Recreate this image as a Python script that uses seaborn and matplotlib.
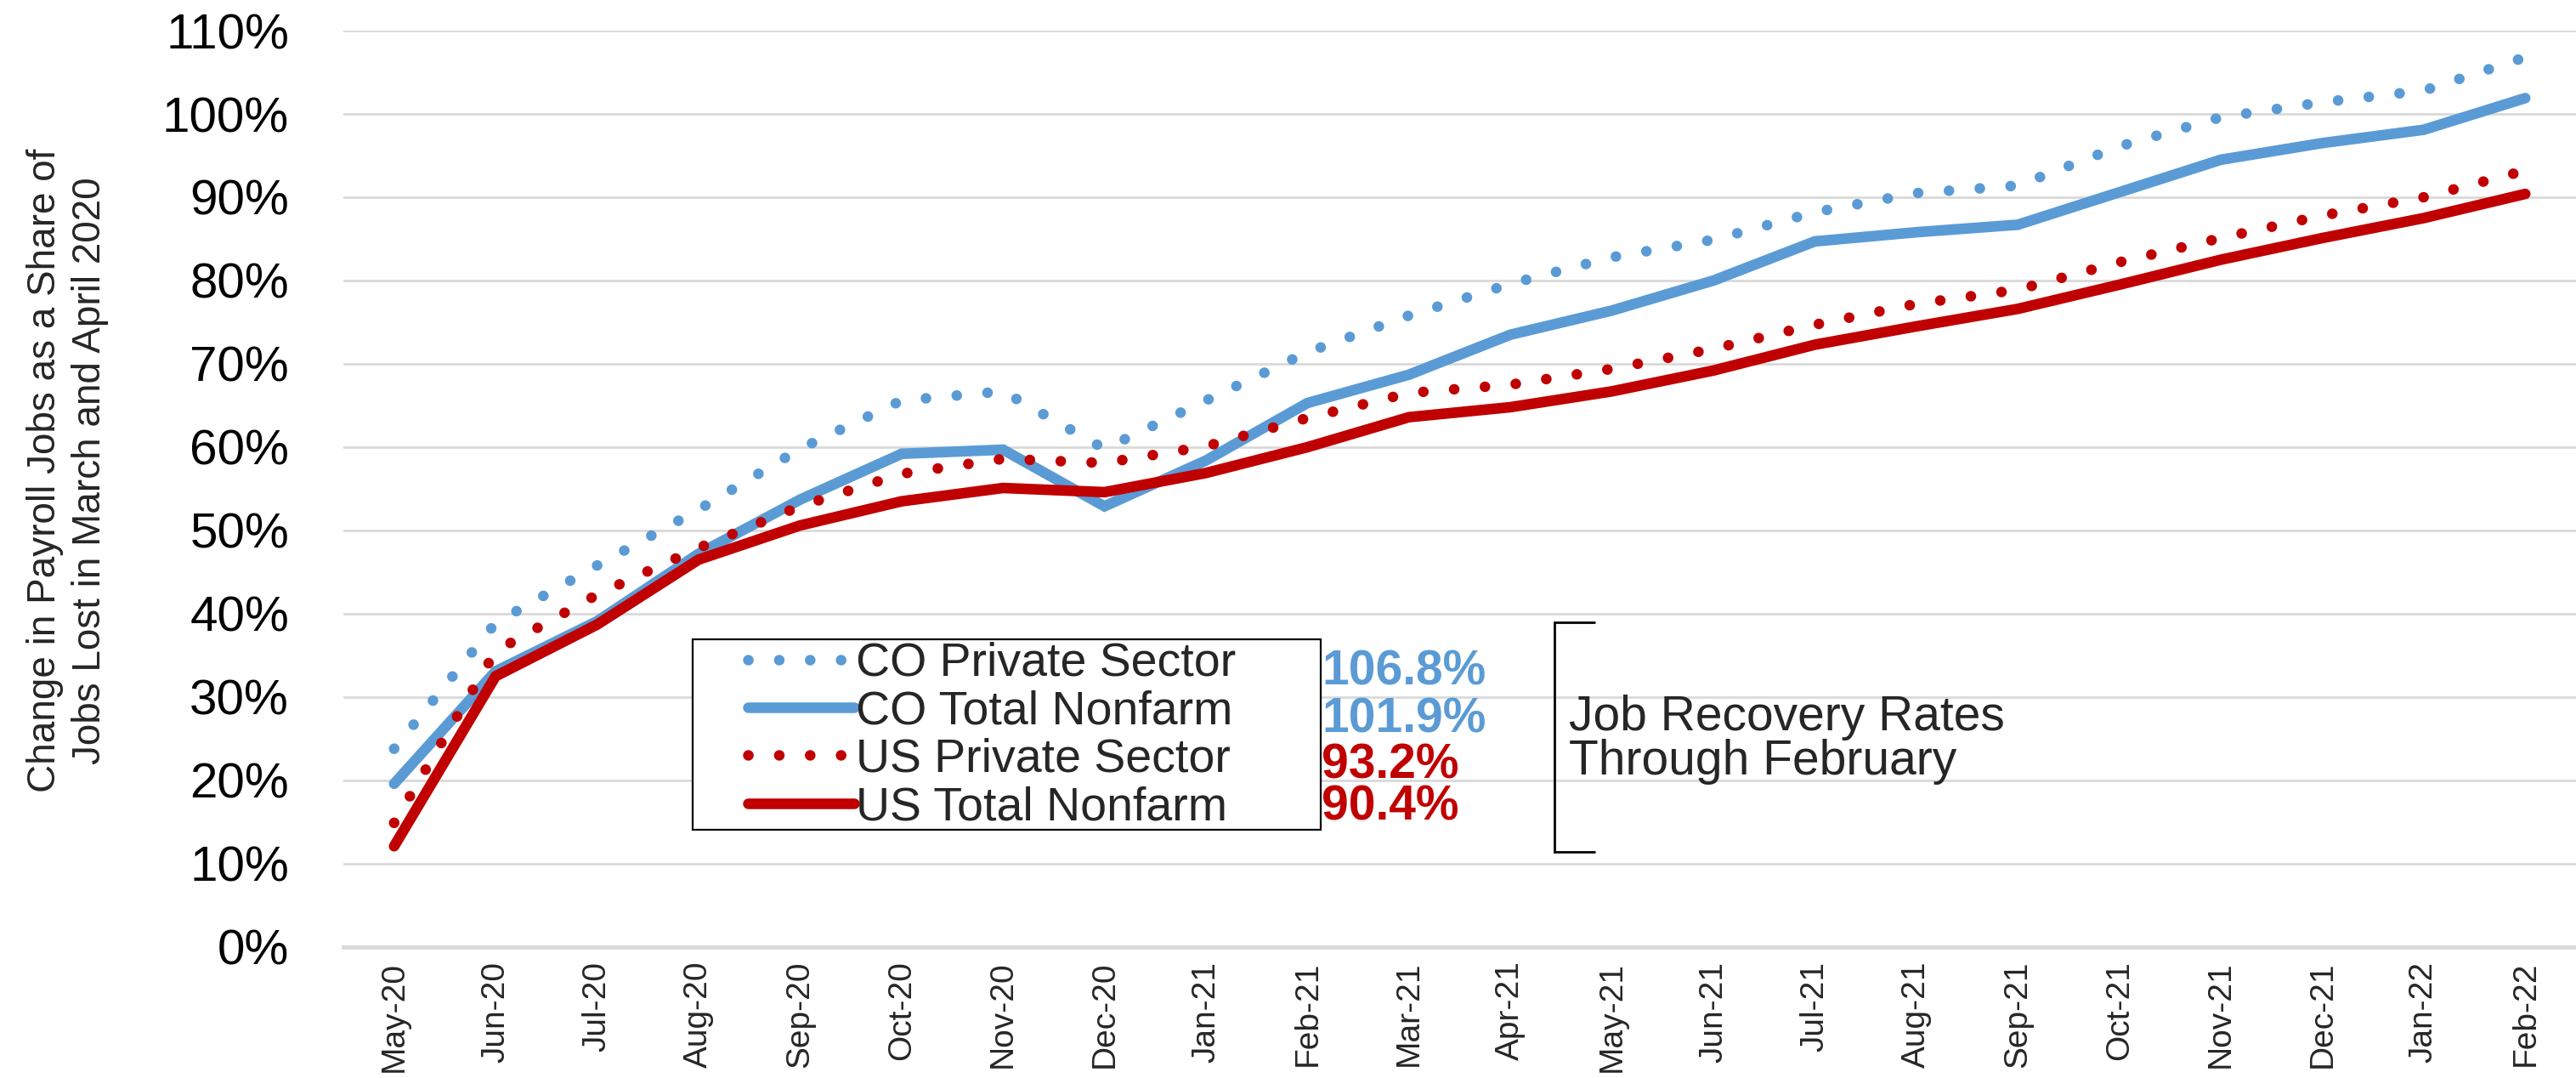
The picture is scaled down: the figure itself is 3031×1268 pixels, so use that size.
import numpy as np
import pandas as pd
import matplotlib
matplotlib.use("Agg")
import matplotlib.pyplot as plt
import seaborn as sns
from matplotlib.patches import Rectangle


months = ["May-20", "Jun-20", "Jul-20", "Aug-20", "Sep-20", "Oct-20", "Nov-20", "Dec-20",
          "Jan-21", "Feb-21", "Mar-21", "Apr-21", "May-21", "Jun-21", "Jul-21", "Aug-21",
          "Sep-21", "Oct-21", "Nov-21", "Dec-21", "Jan-22", "Feb-22"]

co_private = [23.8, 38.9, 45.8, 52.5, 59.8, 65.6, 66.7, 59.8, 65.6, 71.4, 75.8, 79.6,
              82.8, 84.9, 88.2, 90.5, 91.4, 96.1, 99.6, 101.4, 102.8, 106.8]
co_total = [19.6, 33.1, 39.1, 47.2, 53.7, 59.2, 59.7, 52.9, 58.4, 65.3, 68.7, 73.5,
            76.4, 80.0, 84.7, 85.8, 86.7, 90.6, 94.5, 96.5, 98.1, 101.9]
us_private = [14.9, 35.5, 42.3, 47.9, 52.9, 56.8, 58.6, 58.1, 60.1, 63.5, 66.5, 67.5,
              69.4, 71.8, 74.7, 77.2, 78.9, 82.2, 85.1, 87.8, 90.0, 93.2]
us_total = [12.1, 32.5, 38.7, 46.5, 50.6, 53.5, 55.1, 54.6, 56.9, 60.0, 63.6, 64.8,
            66.7, 69.2, 72.3, 74.5, 76.6, 79.5, 82.5, 85.1, 87.5, 90.4]

series_names = ["CO Private Sector", "CO Total Nonfarm", "US Private Sector", "US Total Nonfarm"]

BLUE = "#5B9BD5"
RED = "#C00000"
GRID = "#D9D9D9"

df = pd.DataFrame({
    "idx": np.arange(len(months)),
    "month": months,
    series_names[0]: co_private,
    series_names[1]: co_total,
    series_names[2]: us_private,
    series_names[3]: us_total,
})

sns.set_style("white")
plt.rcParams["font.family"] = ["Liberation Sans", "DejaVu Sans"]

fig = plt.figure(figsize=(30.31, 12.68), dpi=100)
ax = fig.add_axes([0.1333, 0.1215, 0.8667, 0.8501])

dot = (0, (0.01, 2.9))
styles = [
    (series_names[0], BLUE, dot),
    (series_names[1], BLUE, "-"),
    (series_names[2], RED, dot),
    (series_names[3], RED, "-"),
]
for name, color, ls in styles:
    sns.lineplot(data=df, x="idx", y=name, ax=ax, color=color, linewidth=9,
                 linestyle=ls, dash_capstyle="round", solid_capstyle="round",
                 solid_joinstyle="miter", label=name)

ax.set_xlim(-0.5, len(months) - 0.5)
ax.set_ylim(0, 110)
ax.set_yticks(range(0, 111, 10))
ax.set_yticklabels([f"{v}%" for v in range(0, 111, 10)])
ax.set_xticks(df["idx"])
ax.set_xticklabels(months, rotation=90, va="top", ha="center")
ax.set_xticks(np.arange(-0.5, len(months), 1), minor=True)

ax.yaxis.grid(True, color=GRID, linewidth=2)
ax.xaxis.grid(False)
ax.set_axisbelow(True)
for side in ["top", "right", "left"]:
    ax.spines[side].set_visible(False)
ax.spines["bottom"].set_color(GRID)
ax.spines["bottom"].set_linewidth(3.5)

ax.tick_params(axis="y", length=0, pad=46, labelsize=42, labelcolor="black")
ax.tick_params(axis="x", which="major", length=0, pad=12, labelsize=28)
ax.tick_params(axis="x", which="minor", length=9, width=2, color=GRID, direction="out")

ax.set_xlabel("")
ax.set_ylabel("Change in Payroll Jobs as a Share of\nJobs Lost in March and April 2020",
              fontsize=33, va="center", linespacing=1.25)
ax.yaxis.set_label_coords(-0.1235, 0.52)

# legend: frameless entries inside a drawn box
ax.add_patch(Rectangle((0.1565, 0.128), 0.2813, 0.2078, transform=ax.transAxes,
                       facecolor="white", edgecolor="black", linewidth=1.6, zorder=5))
handles, labels = ax.get_legend_handles_labels()
leg = ax.legend(handles, labels, loc="upper left", bbox_to_anchor=(0.181, 0.333),
                frameon=False, fontsize=40, handlelength=2.25, handletextpad=0.05,
                labelspacing=0.08, borderpad=0, borderaxespad=0)
leg.set_zorder(6)

# final values next to the legend
finals = [(co_private[-1], BLUE, 33.0), (co_total[-1], BLUE, 27.3),
          (us_private[-1], RED, 21.8), (us_total[-1], RED, 16.8)]
for val, color, ypos in finals:
    ax.text(9.14, ypos, f"{val:.1f}%", color=color, fontsize=41, fontweight="bold",
            ha="left", va="center", zorder=7)

# bracket and note
bx, btop, bbot, bend = 11.43, 39.0, 11.4, 11.83
ax.plot([bend, bx, bx, bend], [btop, btop, bbot, bbot], color="black", lw=2,
        solid_joinstyle="miter", zorder=7)
ax.text(11.58, 24.9, "Job Recovery Rates\nThrough February", fontsize=41,
        ha="left", va="center", linespacing=0.95, zorder=7)

fig.savefig("out.png", dpi=100)
